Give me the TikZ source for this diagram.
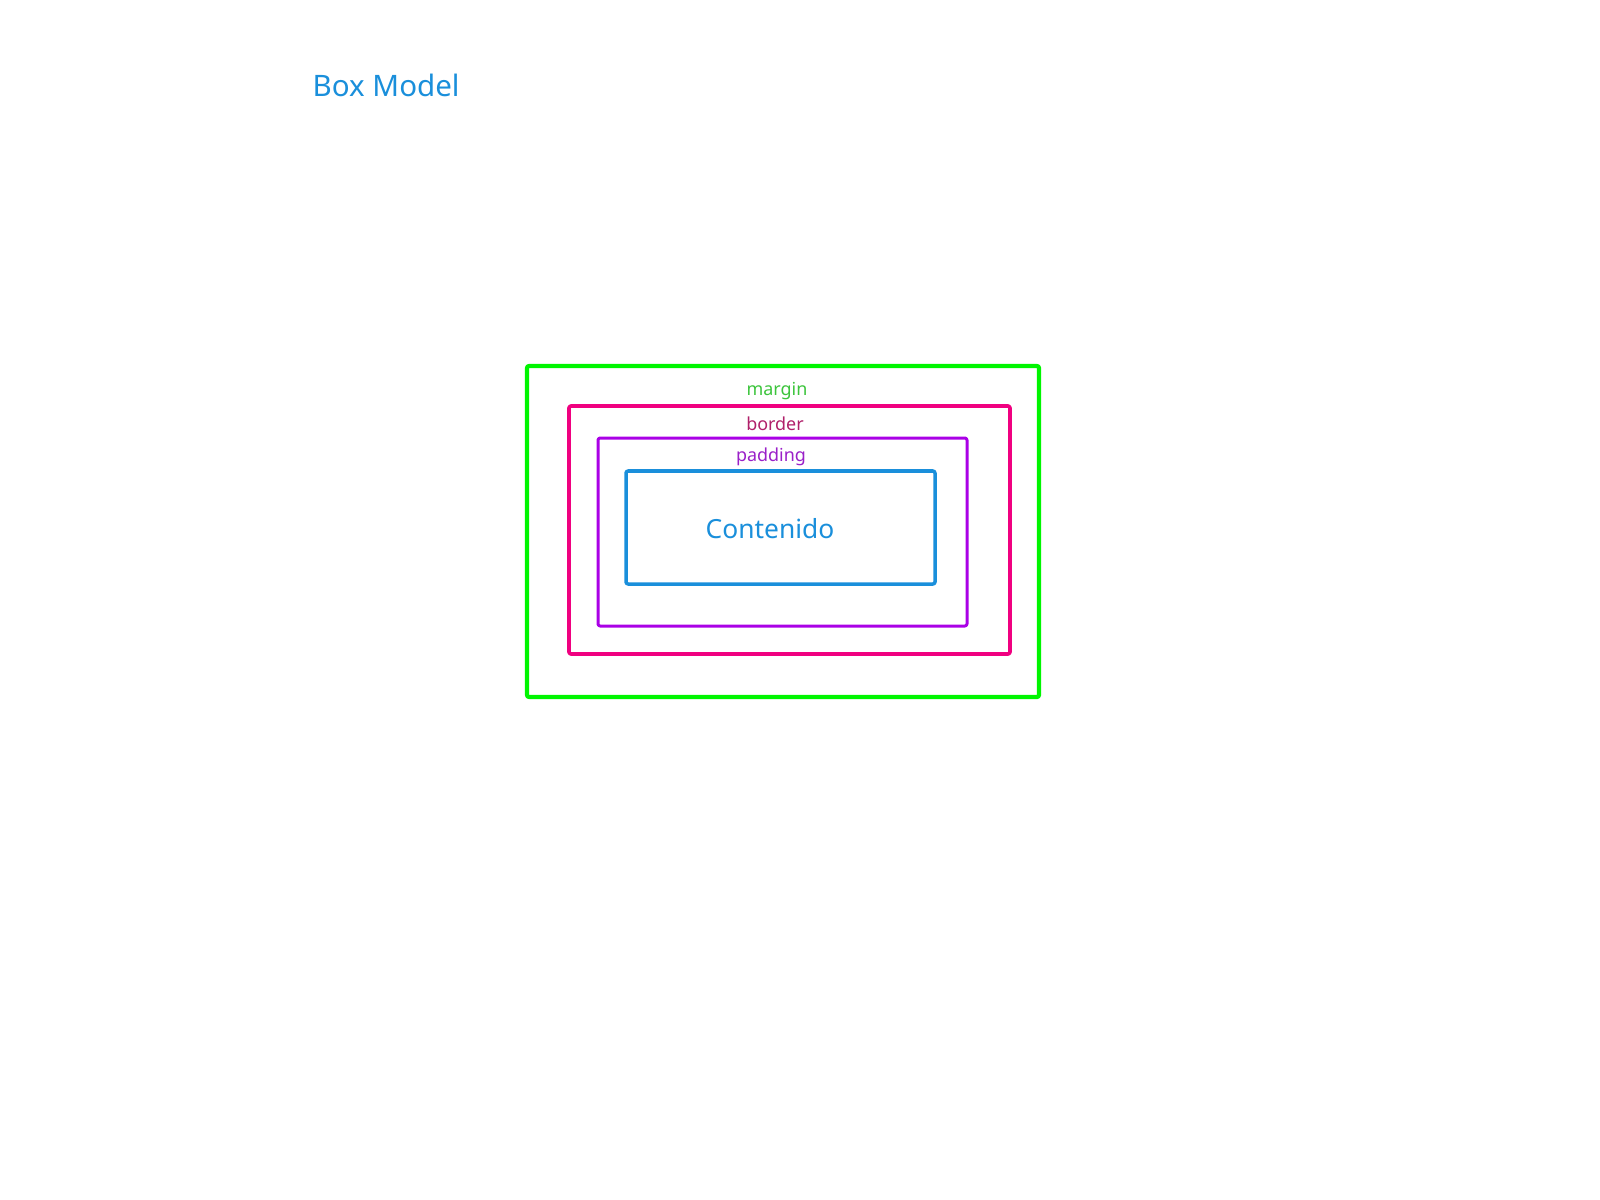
\documentclass[tikz,border=0pt]{standalone}
\usepackage{fontspec}
\setmainfont{Noto Sans}
\usetikzlibrary{positioning}
\definecolor{margincol}{RGB}{0,245,0}
\definecolor{margintext}{RGB}{60,196,60}
\definecolor{bordercol}{RGB}{240,0,128}
\definecolor{bordertext}{RGB}{176,32,106}
\definecolor{paddingcol}{RGB}{170,0,230}
\definecolor{paddingtext}{RGB}{154,32,200}
\definecolor{contentcol}{RGB}{26,143,219}

\begin{document}
\begin{tikzpicture}[x=0.01cm, y=-0.01cm, every node/.style={inner sep=0pt},
  layer/.style={rounded corners=0.6pt, line join=round},
  small label/.style={font=\fontsize{5.1}{6}\selectfont}]
\useasboundingbox (0,0) rectangle (1600,1200);
\node[anchor=west, text=contentcol, font=\fontsize{8.4}{10}\selectfont] (title) at (312,85) {Box Model};
% the four nested boxes
\draw[layer, draw=margincol, line width=1.2pt] (527,366) rectangle (1039,697);
\draw[layer, draw=bordercol, line width=1.05pt] (569,406) rectangle (1010,654);
\draw[layer, draw=paddingcol, line width=0.85pt] (598,438) rectangle (967,626);
\draw[layer, draw=contentcol, line width=1.0pt] (626,471) rectangle (935,584);
\node[small label, text=margintext] (margin) at (777,391) {margin};
\node[small label, text=bordertext] (border) at (775,424) {border};
\node[small label, text=paddingtext] (padding) at (771,457) {padding};
\node[text=contentcol, font=\fontsize{7.5}{9}\selectfont] (contenido) at (770,529) {Contenido};
\end{tikzpicture}
\end{document}
